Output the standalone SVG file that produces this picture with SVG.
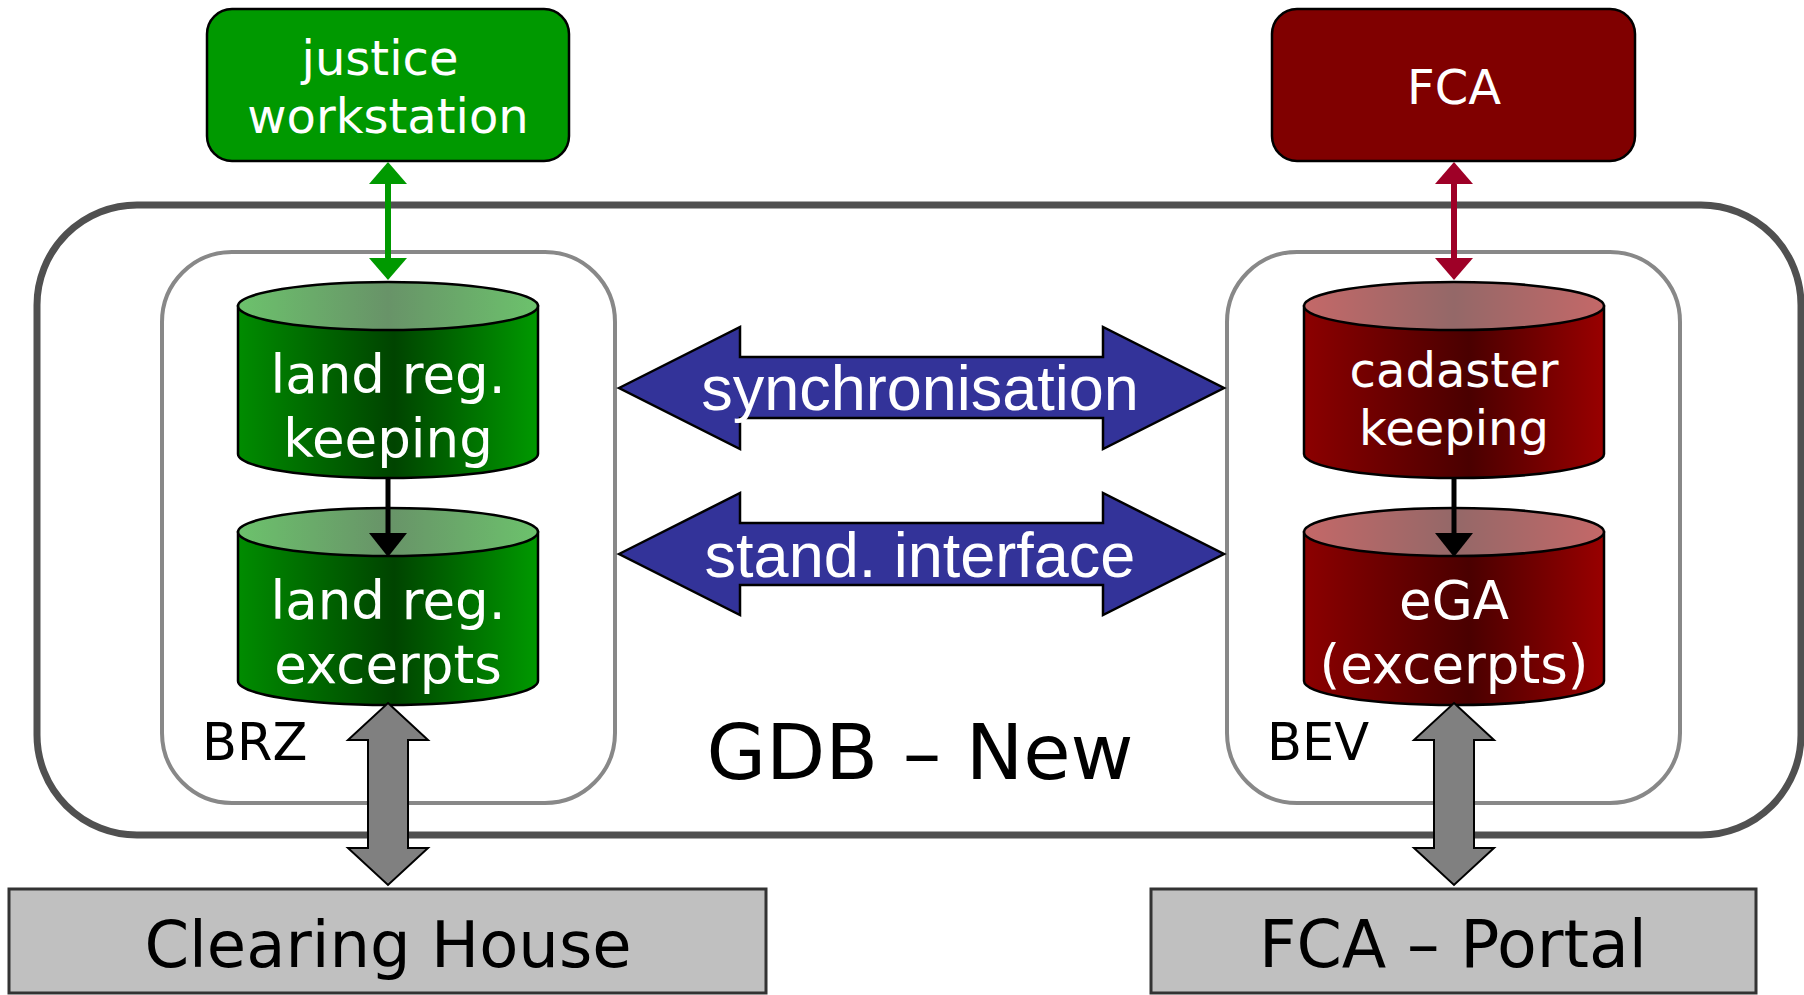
<svg xmlns="http://www.w3.org/2000/svg" width="1804" height="995" viewBox="0 0 1804 995">
<defs>
<linearGradient id="gBody" x1="0" y1="0" x2="1" y2="0">
<stop offset="0" stop-color="#008c00"/><stop offset="0.52" stop-color="#004400"/><stop offset="1" stop-color="#009900"/>
</linearGradient>
<linearGradient id="gTop" x1="0" y1="0" x2="1" y2="0">
<stop offset="0" stop-color="#6cc26c"/><stop offset="0.5" stop-color="#689368"/><stop offset="1" stop-color="#6cc26c"/>
</linearGradient>
<linearGradient id="rBody" x1="0" y1="0" x2="1" y2="0">
<stop offset="0" stop-color="#8c0000"/><stop offset="0.55" stop-color="#4a0000"/><stop offset="1" stop-color="#990000"/>
</linearGradient>
<linearGradient id="rTop" x1="0" y1="0" x2="1" y2="0">
<stop offset="0" stop-color="#c46868"/><stop offset="0.5" stop-color="#946868"/><stop offset="1" stop-color="#c46868"/>
</linearGradient>
<marker id="mGreen" viewBox="0 0 22 38" refX="0" refY="19" markerWidth="22" markerHeight="38" markerUnits="userSpaceOnUse" orient="auto-start-reverse">
<path d="M0,0 L22,19 L0,38 Z" fill="#009900"/>
</marker>
<marker id="mRed" viewBox="0 0 22 38" refX="0" refY="19" markerWidth="22" markerHeight="38" markerUnits="userSpaceOnUse" orient="auto-start-reverse">
<path d="M0,0 L22,19 L0,38 Z" fill="#9e0027"/>
</marker>
<marker id="mBlack" viewBox="0 0 24 38" refX="0" refY="19" markerWidth="24" markerHeight="38" markerUnits="userSpaceOnUse" orient="auto">
<path d="M0,0 L24,19 L0,38 Z" fill="#000"/>
</marker>
</defs>
<style>
.t{font-family:"DejaVu Sans",Verdana,sans-serif}
.a{font-family:"Liberation Sans",Arial,sans-serif}
.w{fill:#fff}
.k{fill:#000}
.m{text-anchor:middle}
.cyl{stroke:#000;stroke-width:2.5}
.blue{fill:#333399;stroke:#000;stroke-width:2.5}
.gray{fill:#808080;stroke:#000;stroke-width:2}
.bot{fill:#c0c0c0;stroke:#333;stroke-width:3}
</style>

<g id="gdb">
<rect x="37" y="205" width="1764" height="630" rx="100" ry="100" fill="#fff" stroke="#505050" stroke-width="7"/>
<text class="t k m" x="920" y="779" font-size="77">GDB – New</text>
</g>
<g id="brz">
<rect x="162" y="252" width="453" height="551" rx="70" ry="70" fill="#fff" stroke="#888" stroke-width="4"/>
<text class="t k" x="202" y="760" font-size="51">BRZ</text>
</g>
<g id="bev">
<rect x="1227" y="252" width="453" height="551" rx="70" ry="70" fill="#fff" stroke="#888" stroke-width="4"/>
<text class="t k" x="1267" y="760" font-size="51">BEV</text>
</g>

<g id="justice">
<rect x="207" y="9" width="362" height="152" rx="25" ry="25" fill="#009900" stroke="#000" stroke-width="2.5"/>
<text class="t w m" x="380" y="75" font-size="48">justice</text>
<text class="t w m" x="388" y="133" font-size="48">workstation</text>
</g>
<g id="fca">
<rect x="1272" y="9" width="363" height="152" rx="25" ry="25" fill="#800000" stroke="#000" stroke-width="2.5"/>
<text class="t w m" x="1454" y="104" font-size="48">FCA</text>
</g>

<g id="landreg-keeping">
<path class="cyl" d="M238,306 V454 A150,24 0 0 0 538,454 V306 Z" fill="url(#gBody)"/>
<ellipse class="cyl" cx="388" cy="306" rx="150" ry="24" fill="url(#gTop)"/>
<text class="t w m" x="388" y="393" font-size="53">land reg.</text>
<text class="t w m" x="388" y="457" font-size="53">keeping</text>
</g>
<g id="landreg-excerpts">
<path class="cyl" d="M238,532 V681 A150,24 0 0 0 538,681 V532 Z" fill="url(#gBody)"/>
<ellipse class="cyl" cx="388" cy="532" rx="150" ry="24" fill="url(#gTop)"/>
<text class="t w m" x="388" y="619" font-size="53">land reg.</text>
<text class="t w m" x="388" y="683" font-size="53">excerpts</text>
</g>
<g id="cadaster-keeping">
<path class="cyl" d="M1304,306 V454 A150,24 0 0 0 1604,454 V306 Z" fill="url(#rBody)"/>
<ellipse class="cyl" cx="1454" cy="306" rx="150" ry="24" fill="url(#rTop)"/>
<text class="t w m" x="1454" y="387" font-size="48">cadaster</text>
<text class="t w m" x="1454" y="445" font-size="48">keeping</text>
</g>
<g id="ega-excerpts">
<path class="cyl" d="M1304,532 V681 A150,24 0 0 0 1604,681 V532 Z" fill="url(#rBody)"/>
<ellipse class="cyl" cx="1454" cy="532" rx="150" ry="24" fill="url(#rTop)"/>
<text class="t w m" x="1454" y="619" font-size="53">eGA</text>
<text class="t w m" x="1454" y="683" font-size="53">(excerpts)</text>
</g>

<g id="clearing-house">
<rect class="bot" x="9" y="889" width="757" height="104"/>
<text class="t k m" x="388" y="967" font-size="64">Clearing House</text>
</g>
<g id="fca-portal">
<rect class="bot" x="1151" y="889" width="605" height="104"/>
<text class="t k m" x="1453" y="967" font-size="65">FCA – Portal</text>
</g>

<g id="connectors">
<g id="synchronisation">
<polygon class="blue" points="619,388 740,327 740,357 1103,357 1103,327 1224,388 1103,449 1103,418 740,418 740,449"/>
<text class="a w m" x="920" y="410" font-size="63">synchronisation</text>
</g>
<g id="stand-interface">
<polygon class="blue" points="619,554 740,493 740,523 1103,523 1103,493 1224,554 1103,615 1103,585 740,585 740,615"/>
<text class="a w m" x="920" y="577" font-size="63">stand. interface</text>
</g>
<line x1="388" y1="184" x2="388" y2="258" stroke="#009900" stroke-width="6" marker-start="url(#mGreen)" marker-end="url(#mGreen)"/>
<line x1="1454" y1="184" x2="1454" y2="258" stroke="#9e0027" stroke-width="6" marker-start="url(#mRed)" marker-end="url(#mRed)"/>
<line x1="388" y1="478" x2="388" y2="533" stroke="#000" stroke-width="5" marker-end="url(#mBlack)"/>
<line x1="1454" y1="478" x2="1454" y2="533" stroke="#000" stroke-width="5" marker-end="url(#mBlack)"/>
<polygon class="gray" points="388,703 428,740 408,740 408,848 428,848 388,885 348,848 368,848 368,740 348,740"/>
<polygon class="gray" points="1454,703 1494,740 1474,740 1474,848 1494,848 1454,885 1414,848 1434,848 1434,740 1414,740"/>
</g>
</svg>
